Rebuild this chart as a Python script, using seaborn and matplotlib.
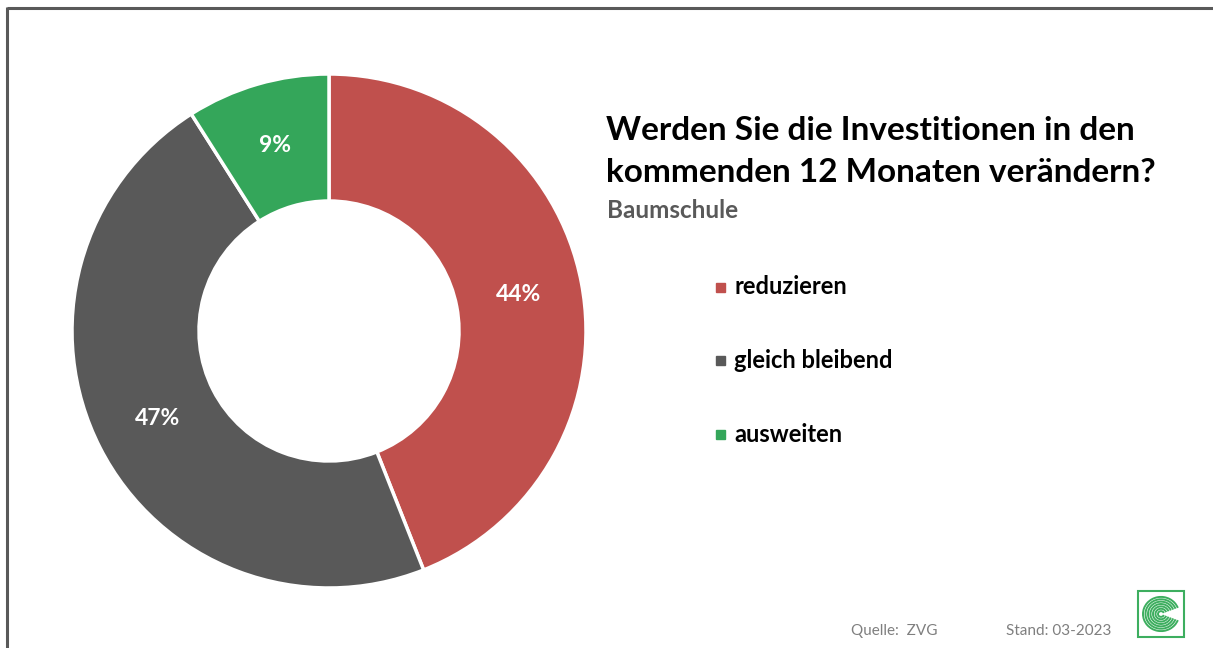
import matplotlib.pyplot as plt
import seaborn as sns
from matplotlib.patches import Rectangle, Arc

categories = ["reduzieren", "gleich bleibend", "ausweiten"]
shares = [44, 47, 9]
colors = ["#C0504D", "#595959", "#34A65A"]

title_lines = ["Werden Sie die Investitionen in den", "kommenden 12 Monaten verändern?"]
subtitle = "Baumschule"
source = "Quelle:  ZVG"
stand = "Stand: 03-2023"

sns.set_theme(style="white")
plt.rcParams["font.family"] = ["Lato", "DejaVu Sans"]

W, H = 1213, 648
fig = plt.figure(figsize=(W / 100, H / 100), dpi=100)
ax = fig.add_axes([0, 0, 1, 1])
ax.set_xlim(0, W)
ax.set_ylim(H, 0)
ax.axis("off")

# donut (pie draws in y-up coords, so use a second axes over the same area)
pax = fig.add_axes([0, 0, 1, 1])
wedges, texts = pax.pie(
    shares,
    colors=colors,
    startangle=90,
    counterclock=False,
    center=(329, H - 331),
    radius=257,
    labels=[f"{v}%" for v in shares],
    labeldistance=0.75,
    wedgeprops=dict(width=127, edgecolor="white", linewidth=2.5),
    textprops=dict(color="white", fontsize=16.5, fontweight="bold"),
    frame=True,
)
pax.set_xlim(0, W)
pax.set_ylim(0, H)
pax.set_aspect("auto")
pax.axis("off")
for t in texts:
    t.set_ha("center")
    t.set_va("center")

# frame lines (top and left only visible)
ax.plot([7, W], [7.5, 7.5], color="#595959", lw=2.2, solid_capstyle="butt")
ax.plot([7, 7], [7, H], color="#595959", lw=2.2, solid_capstyle="butt")

# title block
for i, line in enumerate(title_lines):
    ax.text(606, 130 + i * 42, line, fontsize=24, fontweight="bold",
            color="black", ha="left", va="center")
ax.text(607, 211, subtitle, fontsize=17.5, fontweight="bold", color="#595959",
        ha="left", va="center")

# legend
for i, (lab, col) in enumerate(zip(categories, colors)):
    y = 287 + i * 73.5
    ax.add_patch(Rectangle((716, y - 4.5), 9, 9, color=col))
    ax.text(734, y, lab, fontsize=17, fontweight="bold", color="black",
            ha="left", va="center")

# footer
ax.text(851, 631, source, fontsize=11, color="#7F7F7F", ha="left", va="center")
ax.text(1006, 631, stand, fontsize=11, color="#7F7F7F", ha="left", va="center")

# logo
ax.add_patch(Rectangle((1138, 591), 46, 46, fill=False, edgecolor="#3DAE5F", lw=1.5))
for r in range(6, 40, 5):
    ax.add_patch(Arc((1161, 614), r, r * 0.95, theta1=20, theta2=340,
                     color="#3DAE5F", lw=1.4))

fig.savefig("out.png", dpi=100)
